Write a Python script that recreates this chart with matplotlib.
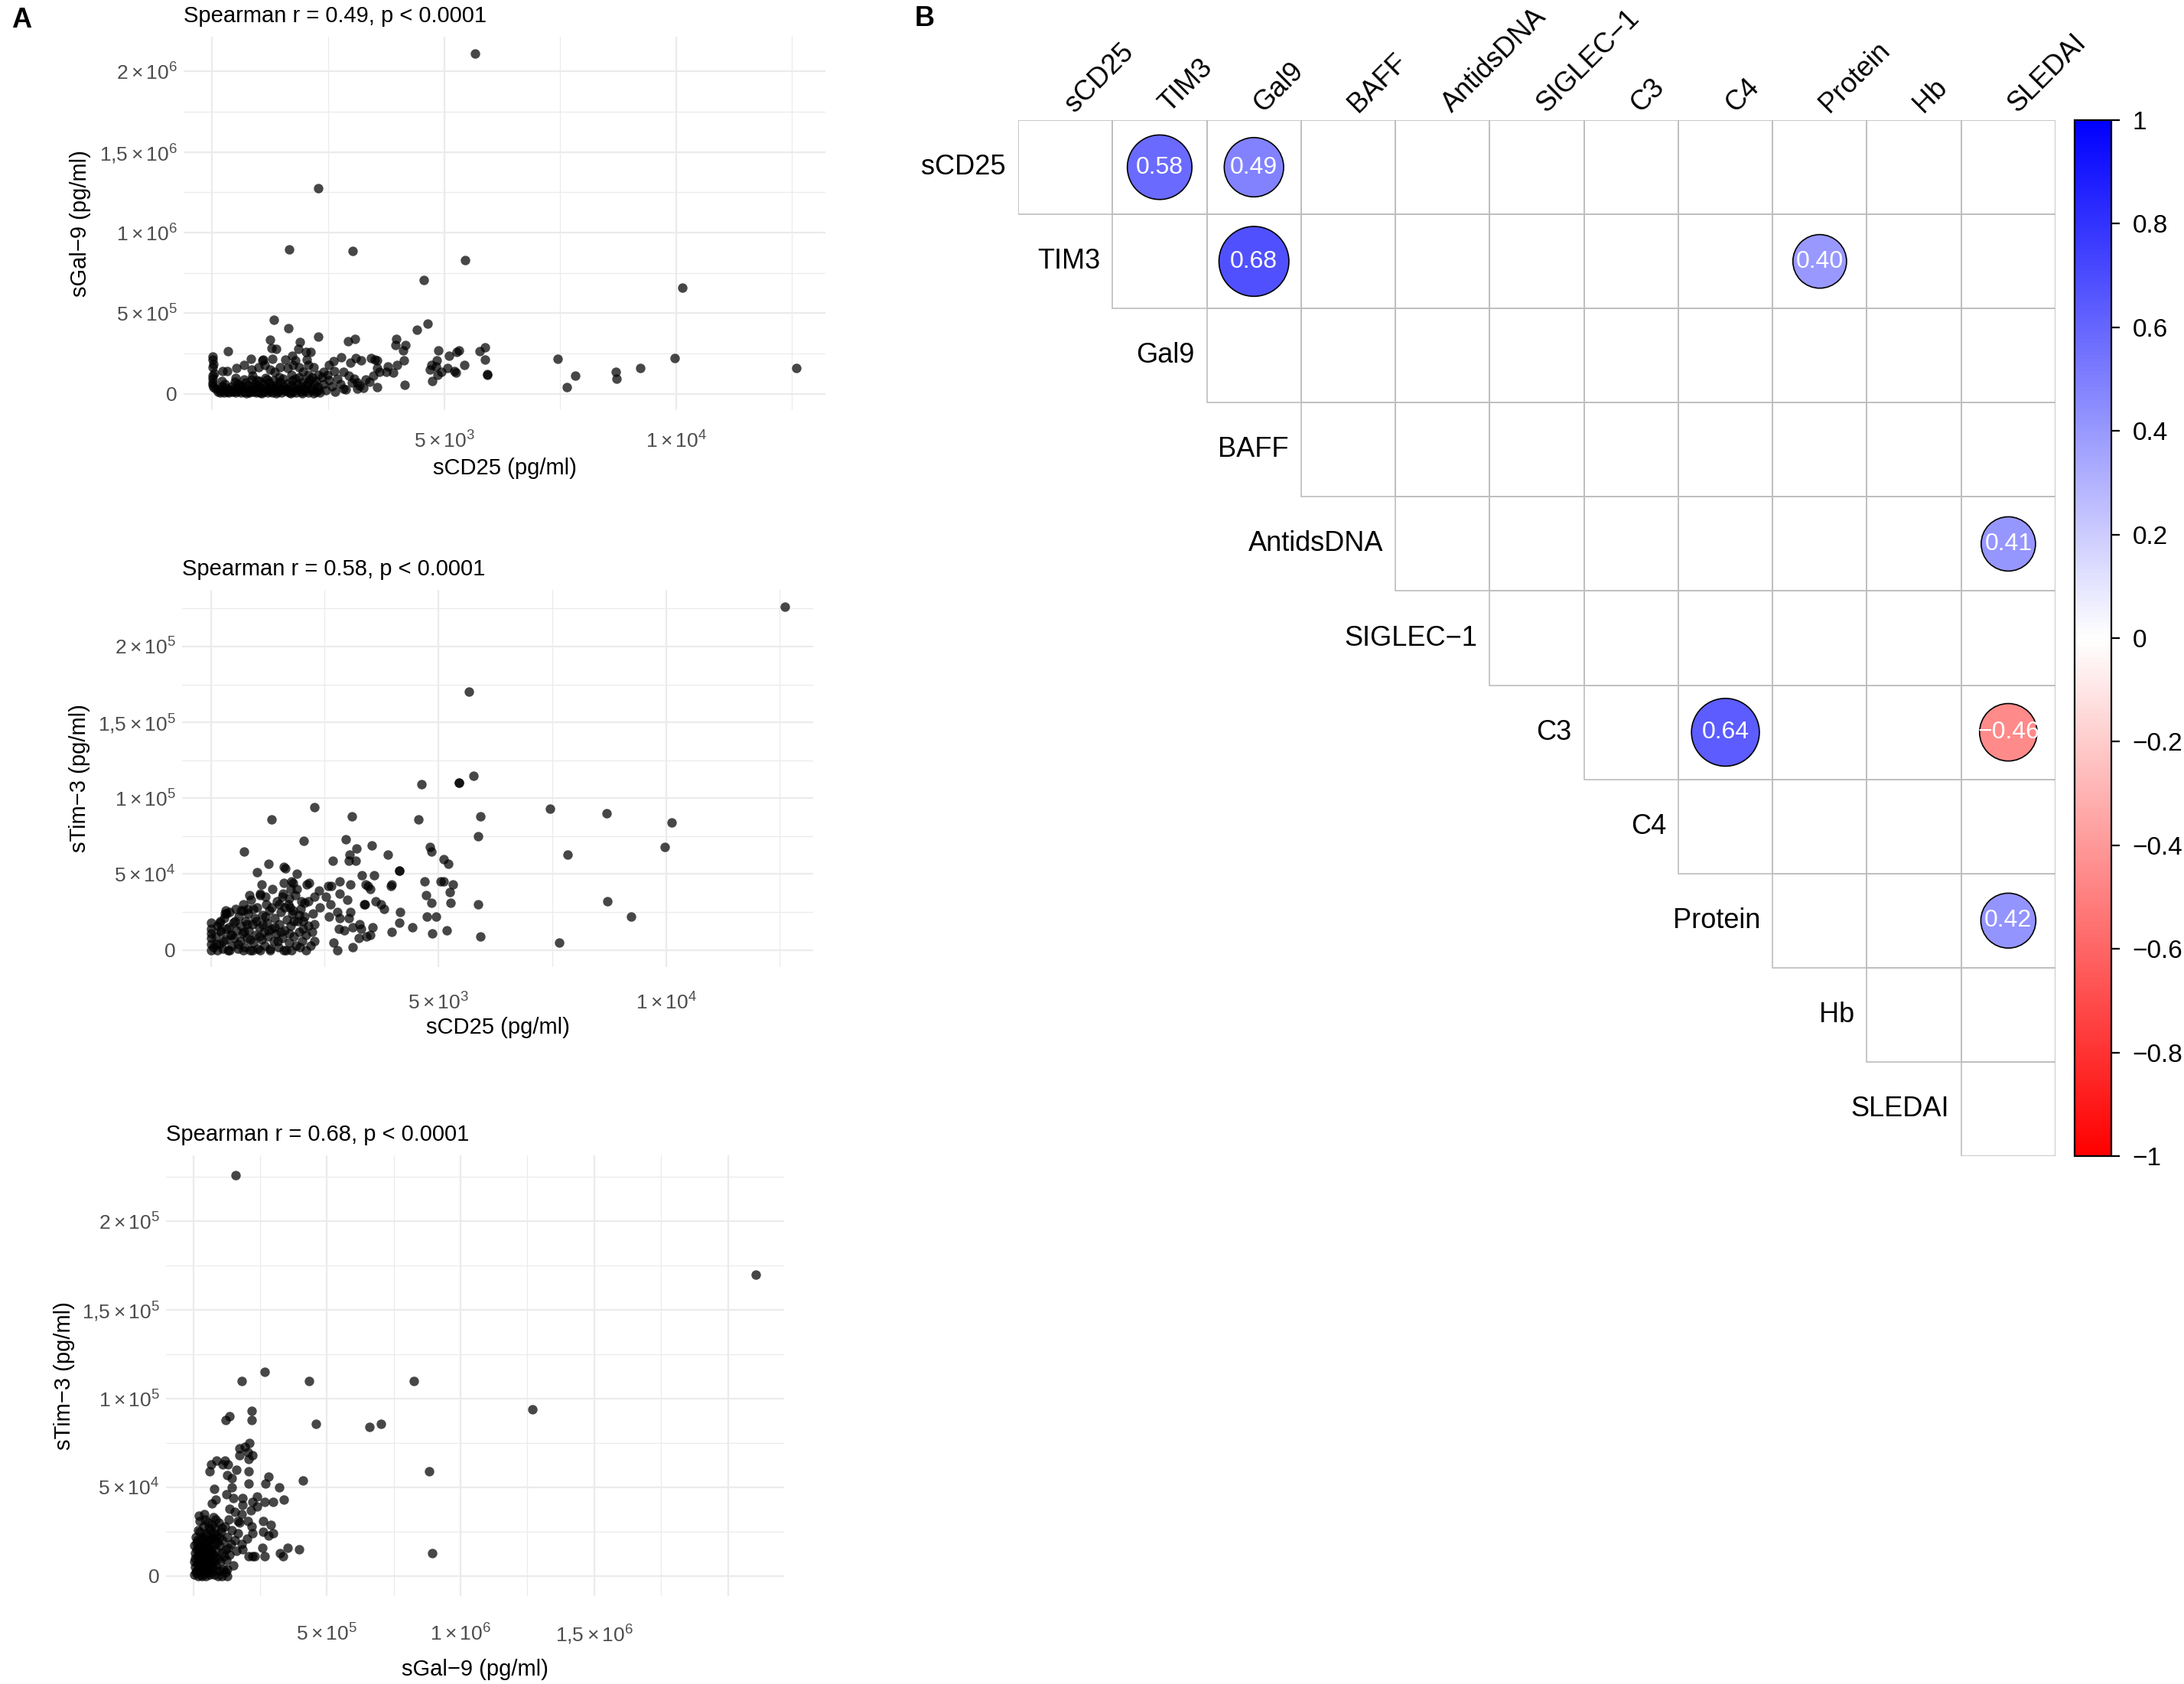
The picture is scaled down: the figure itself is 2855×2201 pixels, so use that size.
import numpy as np
import matplotlib
matplotlib.use('Agg')
import matplotlib.pyplot as plt
from matplotlib.patches import Circle, Rectangle
from matplotlib.colors import LinearSegmentedColormap, Normalize
from matplotlib.cm import ScalarMappable

plt.rcParams['font.family'] = ['Liberation Sans', 'DejaVu Sans']
plt.rcParams['mathtext.fontset'] = 'custom'
plt.rcParams['mathtext.rm'] = 'Liberation Sans'
plt.rcParams['mathtext.it'] = 'Liberation Sans:italic'
plt.rcParams['mathtext.bf'] = 'Liberation Sans:bold'

# ---------------- panel A data ----------------
# sCD25 (x) vs sGal-9 (y)
cd25_gal9_sparse = [
    (5668, 2110e3), (2288, 1276e3), (1661, 896e3), (3031, 886e3), (5459, 827e3),
    (4564, 707e3), (10128, 659e3), (7445, 218e3), (7642, 39e3), (7828, 110e3),
    (8699, 134e3), (8711, 93e3), (9233, 161e3), (9977, 220e3), (12590, 161e3),
    (1325, 457e3), (1639, 408e3), (1242, 334e3), (1893, 323e3), (2285, 353e3),
    (331, 263e3), (1281, 281e3), (1380, 279e3), (1849, 279e3), (2015, 260e3),
    (2125, 259e3), (2931, 325e3), (3080, 341e3), (3969, 339e3), (3947, 301e3),
    (4168, 300e3), (4123, 268e3), (4416, 396e3), (4637, 435e3), (4869, 267e3),
    (5272, 260e3), (5327, 270e3), (5768, 265e3), (5879, 289e3), (5879, 210e3),
    (5923, 121e3), (5923, 118e3), (5437, 180e3), (5106, 237e3), (4847, 208e3),
    (4720, 181e3), (4692, 148e3), (4830, 170e3), (4858, 118e3), (4940, 137e3),
    (5078, 158e3), (5216, 142e3), (5261, 129e3), (4747, 79e3), (4140, 205e3),
    (4146, 55e3), (3980, 180e3), (3792, 170e3), (3754, 134e3), (3903, 129e3),
    (3605, 134e3), (3560, 161e3), (3505, 210e3), (3422, 221e3), (3560, 205e3),
    (3207, 208e3), (3086, 222e3), (2981, 192e3), (2777, 226e3), (2611, 202e3),
    (2523, 178e3), (2633, 140e3), (2826, 137e3), (2826, 33e3), (3124, 32e3),
    (3257, 36e3), (3560, 39e3), (3312, 87e3), (3064, 95e3), (3008, 71e3),
    (3119, 68e3), (3395, 74e3), (3478, 110e3), (2484, 118e3), (2401, 137e3),
    (2374, 103e3), (2291, 118e3), (2291, 24e3), (2180, 166e3), (2070, 181e3),
    (2042, 213e3), (1794, 205e3), (1739, 181e3), (1728, 237e3), (1573, 213e3),
    (1297, 219e3), (1104, 213e3), (1076, 205e3), (828, 219e3), (690, 177e3),
    (513, 162e3), (320, 142e3), (221, 140e3), (210, 80e3), (11, 232e3),
    (11, 213e3), (11, 166e3), (11, 110e3), (11, 95e3), (11, 71e3), (11, 55e3),
    (497, 98e3), (845, 150e3), (999, 166e3), (1132, 181e3), (1242, 150e3),
    (1352, 134e3), (1463, 166e3), (1628, 158e3), (1711, 118e3), (1877, 166e3),
    (1960, 134e3), (2070, 118e3), (2153, 103e3), (2236, 79e3),
]
cd25_gal9_dense = [
    (120, 15e3), (180, 8e3), (230, 22e3), (260, 10e3), (300, 35e3), (330, 14e3),
    (360, 6e3), (390, 28e3), (420, 48e3), (440, 12e3), (470, 19e3), (500, 9e3),
    (520, 38e3), (550, 60e3), (560, 16e3), (590, 27e3), (620, 7e3), (640, 44e3),
    (660, 20e3), (690, 11e3), (710, 70e3), (730, 33e3), (760, 15e3), (780, 52e3),
    (800, 8e3), (820, 24e3), (850, 90e3), (860, 40e3), (880, 13e3), (910, 62e3),
    (930, 29e3), (950, 6e3), (970, 18e3), (990, 46e3), (1010, 78e3), (1030, 10e3),
    (1050, 35e3), (1080, 22e3), (1100, 58e3), (1120, 14e3), (1140, 100e3),
    (1160, 42e3), (1190, 7e3), (1210, 27e3), (1230, 68e3), (1250, 17e3),
    (1270, 50e3), (1300, 9e3), (1320, 85e3), (1340, 31e3), (1360, 20e3),
    (1390, 56e3), (1410, 12e3), (1430, 40e3), (1460, 74e3), (1480, 25e3),
    (1500, 8e3), (1520, 95e3), (1550, 47e3), (1570, 16e3), (1600, 33e3),
    (1620, 64e3), (1650, 10e3), (1670, 22e3), (1700, 52e3), (1720, 82e3),
    (1740, 14e3), (1770, 37e3), (1800, 6e3), (1820, 60e3), (1850, 26e3),
    (1880, 105e3), (1900, 44e3), (1930, 12e3), (1960, 72e3), (1990, 30e3),
    (2010, 18e3), (2040, 55e3), (2070, 9e3), (2100, 88e3), (2130, 35e3),
    (2160, 20e3), (2200, 60e3), (2240, 14e3), (2280, 42e3), (2310, 8e3),
    (150, 28e3), (210, 45e3), (280, 60e3), (350, 20e3), (480, 75e3), (600, 52e3),
    (680, 90e3), (740, 4e3), (870, 110e3), (960, 84e3), (1060, 5e3), (1180, 88e3),
    (1280, 36e3), (1370, 4e3), (1450, 102e3), (1540, 28e3), (1690, 4e3),
    (1790, 92e3), (1940, 4e3), (2060, 68e3), (2180, 4e3), (30, 40e3),
    (40, 125e3), (25, 185e3), (70, 30e3),
    (2400, 60e3), (2450, 20e3), (2520, 85e3), (2580, 45e3), (2650, 12e3),
    (2700, 95e3), (2760, 60e3), (2880, 25e3), (2950, 110e3), (3180, 50e3),
]

# sCD25 (x) vs sTim-3 (y)
cd25_tim3_sparse = [
    (12602, 226e3), (5664, 170e3), (7446, 93e3), (8697, 90e3), (10124, 84e3),
    (9971, 68e3), (7835, 63e3), (8708, 32e3), (9239, 22e3), (7646, 5e3),
    (5773, 115e3), (4630, 109e3), (5448, 110e3), (5455, 110e3), (2281, 94e3),
    (1328, 86e3), (3094, 88e3), (4562, 86e3), (5919, 88e3), (5880, 75e3),
    (2046, 72e3), (2971, 73e3), (729, 65e3), (3542, 69e3), (3206, 67e3),
    (3896, 63e3), (3049, 63e3), (3038, 59e3), (3189, 59e3), (2685, 59e3),
    (4820, 68e3), (4848, 65e3), (5123, 60e3), (5213, 57e3), (4137, 52e3),
    (4140, 52e3), (1272, 57e3), (1609, 55e3), (1637, 54e3), (1009, 51e3),
    (1889, 50e3), (3324, 49e3), (3582, 49e3), (2830, 45e3), (3071, 43e3),
    (3402, 43e3), (3447, 42e3), (3503, 40e3), (3974, 43e3), (3963, 42e3),
    (4691, 45e3), (5056, 45e3), (5112, 45e3), (5319, 43e3), (5246, 38e3),
    (5269, 31e3), (4725, 36e3), (4843, 31e3), (4747, 22e3), (4944, 22e3),
    (4871, 11e3), (5185, 13e3), (5874, 30e3), (5919, 9e3), (4159, 25e3),
    (4137, 18e3), (4422, 15e3), (3974, 12e3), (3548, 15e3), (3503, 10e3),
    (3419, 9e3), (3251, 8e3), (3302, 14e3), (3262, 17e3), (3111, 15e3),
    (3038, 21e3), (3071, 25e3), (3004, 33e3), (2830, 37e3), (2774, 25e3),
    (2830, 21e3), (2819, 14e3), (2926, 13e3), (3111, 2e3), (2786, 0),
    (2690, 5e3), (2595, 22e3), (3374, 30e3), (3378, 30e3), (3621, 32e3),
    (3745, 30e3), (3800, 27e3), (2646, 42e3), (2573, 42e3), (2533, 35e3),
    (2634, 30e3), (2388, 28e3), (2371, 39e3), (2281, 35e3), (2276, 6e3),
    (2231, 12e3), (2281, 17e3), (2141, 32e3), (2057, 31e3), (1995, 32e3),
    (2158, 44e3), (2113, 43e3), (1883, 40e3), (1805, 44e3), (1777, 45e3),
    (1749, 40e3), (1580, 37e3), (1564, 35e3), (1496, 30e3), (1199, 35e3),
    (1076, 37e3), (1115, 43e3), (852, 36e3), (813, 27e3), (712, 26e3),
    (320, 26e3), (303, 24e3), (213, 19e3), (213, 13e3), (0, 18e3), (0, 14e3),
    (0, 11e3), (0, 8e3), (0, 4e3), (0, 0), (151, 0), (2029, 19e3), (2029, 14e3),
    (1945, 23e3), (1805, 26e3), (1721, 34e3), (1743, 28e3), (2085, 0),
    (1777, 0), (1609, 0), (1300, 0), (1076, 0), (908, 0), (712, 0), (404, 0),
]
cd25_tim3_dense = [
    (60, 2e3), (110, 9e3), (150, 16e3), (190, 4e3), (230, 12e3), (260, 1e3),
    (290, 21e3), (320, 7e3), (350, 14e3), (380, 0), (410, 25e3), (430, 10e3),
    (460, 3e3), (490, 18e3), (510, 8e3), (540, 27e3), (560, 13e3), (590, 1e3),
    (610, 22e3), (640, 6e3), (660, 16e3), (690, 11e3), (710, 30e3), (740, 2e3),
    (760, 19e3), (790, 8e3), (810, 24e3), (840, 13e3), (860, 0), (890, 33e3),
    (910, 17e3), (940, 5e3), (960, 21e3), (990, 10e3), (1010, 28e3), (1040, 1e3),
    (1060, 15e3), (1090, 36e3), (1110, 7e3), (1140, 23e3), (1160, 12e3),
    (1190, 3e3), (1210, 30e3), (1240, 18e3), (1260, 9e3), (1290, 26e3),
    (1310, 1e3), (1340, 14e3), (1360, 40e3), (1390, 6e3), (1410, 21e3),
    (1440, 11e3), (1460, 32e3), (1490, 2e3), (1510, 17e3), (1540, 25e3),
    (1570, 8e3), (1600, 44e3), (1620, 13e3), (1650, 0), (1680, 20e3),
    (1700, 30e3), (1730, 5e3), (1760, 16e3), (1790, 24e3), (1820, 9e3),
    (1850, 36e3), (1880, 3e3), (1910, 19e3), (1940, 12e3), (1980, 27e3),
    (2010, 6e3), (2060, 22e3), (2100, 10e3), (2150, 16e3), (2200, 3e3),
    (2240, 24e3), (130, 4e3), (200, 18e3), (270, 6e3), (340, 24e3), (400, 15e3),
    (470, 10e3), (530, 19e3), (600, 4e3), (670, 26e3), (730, 12e3), (800, 17e3),
    (870, 7e3), (930, 27e3), (1000, 19e3), (1070, 9e3), (1130, 17e3),
    (1200, 22e3), (1270, 13e3), (1330, 28e3), (1400, 15e3), (1470, 6e3),
    (1530, 12e3), (1620, 28e3), (1720, 11e3), (1830, 19e3), (1960, 2e3),
]

# sGal-9 (x) vs sTim-3 (y)
gal9_tim3_sparse = [
    (159e3, 226e3), (2105e3, 170e3), (825e3, 110e3), (1270e3, 94e3),
    (881e3, 59e3), (893e3, 13e3),
    (266e3, 115e3), (180e3, 110e3), (434e3, 110e3), (219e3, 93e3), (219e3, 88e3),
    (134e3, 90e3), (122e3, 88e3), (458e3, 86e3), (660e3, 84e3), (701e3, 86e3),
    (210e3, 75e3), (193e3, 73e3), (172e3, 72e3), (172e3, 68e3), (203e3, 70e3),
    (222e3, 68e3), (208e3, 66e3), (86e3, 65e3), (66e3, 63e3), (62e3, 59e3),
    (117e3, 65e3), (110e3, 63e3), (131e3, 63e3), (161e3, 60e3), (206e3, 59e3),
    (126e3, 57e3), (143e3, 55e3), (282e3, 56e3), (270e3, 52e3), (207e3, 52e3),
    (409e3, 54e3), (322e3, 50e3), (144e3, 50e3), (77e3, 49e3), (339e3, 43e3),
    (299e3, 42e3), (268e3, 42e3), (238e3, 45e3), (220e3, 42e3), (239e3, 39e3),
    (215e3, 37e3), (184e3, 44e3), (184e3, 40e3), (151e3, 44e3), (125e3, 46e3),
    (83e3, 43e3), (69e3, 41e3), (136e3, 38e3), (155e3, 36e3), (182e3, 35e3),
    (21e3, 34e3), (45e3, 32e3), (167e3, 31e3), (203e3, 31e3), (261e3, 31e3),
    (289e3, 29e3), (217e3, 28e3), (222e3, 24e3), (261e3, 25e3), (280e3, 23e3),
    (299e3, 24e3), (200e3, 21e3), (182e3, 18e3), (184e3, 15e3), (258e3, 16e3),
    (353e3, 16e3), (397e3, 15e3), (325e3, 13e3), (337e3, 11e3), (268e3, 11e3),
    (229e3, 11e3), (208e3, 11e3), (220e3, 11e3), (128e3, 4e3), (128e3, 0),
    (107e3, 0),
]
gal9_tim3_dense = [
    (3e3, 1e3), (6e3, 5e3), (8e3, 10e3), (10e3, 2e3), (12e3, 15e3), (14e3, 7e3),
    (16e3, 20e3), (18e3, 0), (20e3, 12e3), (22e3, 4e3), (24e3, 25e3), (26e3, 9e3),
    (28e3, 17e3), (30e3, 1e3), (32e3, 13e3), (34e3, 6e3), (36e3, 22e3),
    (38e3, 28e3), (40e3, 10e3), (42e3, 3e3), (44e3, 18e3), (46e3, 14e3),
    (48e3, 0), (50e3, 24e3), (52e3, 8e3), (54e3, 30e3), (56e3, 16e3), (58e3, 4e3),
    (60e3, 20e3), (62e3, 11e3), (64e3, 26e3), (66e3, 2e3), (68e3, 15e3),
    (70e3, 7e3), (72e3, 22e3), (74e3, 33e3), (76e3, 12e3), (78e3, 1e3),
    (80e3, 18e3), (82e3, 27e3), (84e3, 6e3), (86e3, 14e3), (88e3, 23e3),
    (90e3, 3e3), (92e3, 10e3), (95e3, 30e3), (98e3, 17e3), (100e3, 8e3),
    (103e3, 25e3), (106e3, 13e3), (110e3, 20e3), (113e3, 4e3), (117e3, 28e3),
    (120e3, 15e3), (124e3, 9e3), (128e3, 22e3), (132e3, 32e3), (136e3, 12e3),
    (140e3, 18e3), (145e3, 26e3), (150e3, 6e3), (155e3, 20e3), (160e3, 14e3),
    (166e3, 24e3), (172e3, 30e3),
    (5e3, 17e3), (9e3, 22e3), (13e3, 3e3), (17e3, 26e3), (21e3, 8e3),
    (25e3, 31e3), (29e3, 21e3), (33e3, 0), (37e3, 11e3), (41e3, 35e3), (45e3, 5e3),
    (49e3, 19e3), (53e3, 12e3), (57e3, 27e3), (61e3, 1e3), (65e3, 17e3),
    (69e3, 29e3), (73e3, 5e3), (77e3, 24e3), (81e3, 10e3), (85e3, 32e3),
    (89e3, 19e3), (93e3, 0), (97e3, 22e3), (102e3, 3e3), (108e3, 27e3),
    (115e3, 11e3), (122e3, 2e3), (130e3, 16e3),
    (4e3, 8e3), (7e3, 13e3), (11e3, 19e3), (15e3, 11e3), (19e3, 16e3),
    (23e3, 14e3), (27e3, 5e3), (31e3, 9e3), (35e3, 16e3), (39e3, 20e3),
    (43e3, 8e3), (47e3, 23e3), (51e3, 2e3), (55e3, 10e3), (59e3, 14e3),
    (63e3, 6e3), (67e3, 21e3), (71e3, 13e3), (75e3, 9e3), (79e3, 21e3),
]

titles_a = ['Spearman r = 0.49, p < 0.0001',
            'Spearman r = 0.58, p < 0.0001',
            'Spearman r = 0.68, p < 0.0001']

# ---------------- panel B data ----------------
vars_b = ['sCD25', 'TIM3', 'Gal9', 'BAFF', 'AntidsDNA', 'SIGLEC\u22121',
          'C3', 'C4', 'Protein', 'Hb', 'SLEDAI']
sig_row = ['sCD25', 'sCD25', 'TIM3', 'TIM3', 'AntidsDNA', 'C3', 'C3', 'Protein']
sig_col = ['TIM3', 'Gal9', 'Gal9', 'Protein', 'SLEDAI', 'C4', 'SLEDAI', 'SLEDAI']
sig_r = [0.58, 0.49, 0.68, 0.40, 0.41, 0.64, -0.46, 0.42]

# ---------------- figure ----------------
W, H = 2855, 2201
DPI = 200
fig = plt.figure(figsize=(W / DPI, H / DPI), dpi=DPI)


def box(l, t, r, b):
    return [l / W, 1 - b / H, (r - l) / W, (b - t) / H]


def sci(m, e):
    return r'$%s\times10^{%d}$' % (m, e)


def scatter_panel(px, pts, title, xlab, ylab, xmaj, xlabs, xminr,
                  ymaj, ylabs, yminr, ylab_x, xlab_y, xpad=10):
    l, t, r, b = px
    ax = fig.add_axes(box(l, t, r, b))
    xs = [p[0] for p in pts]
    ys = [p[1] for p in pts]
    ax.scatter(xs, ys, s=20, c='black', alpha=0.72, linewidths=0, zorder=3)
    ax.margins(0.05)
    xl, yl = ax.get_xlim(), ax.get_ylim()
    ax.set_xticks(xmaj)
    ax.set_xticklabels(xlabs)
    ax.set_xticks(xminr, minor=True)
    ax.set_yticks(ymaj)
    ax.set_yticklabels(ylabs)
    ax.set_yticks(yminr, minor=True)
    ax.set_xlim(xl)
    ax.set_ylim(yl)
    for s in ax.spines.values():
        s.set_visible(False)
    ax.grid(which='major', color='#EBEBEB', lw=0.8, zorder=0)
    ax.grid(which='minor', color='#EBEBEB', lw=0.45, zorder=0)
    ax.set_axisbelow(True)
    ax.tick_params(which='both', length=0, labelsize=9.5, labelcolor='#4D4D4D')
    ax.tick_params(axis='x', pad=xpad)
    ax.tick_params(axis='y', pad=3)
    ax.set_title(title, loc='left', fontsize=10.5, pad=7)
    ax.set_xlabel(xlab, fontsize=10.5)
    ax.set_ylabel(ylab, fontsize=10.5)
    ax.xaxis.label.set_va('center')
    ax.yaxis.label.set_va('center')
    ax.xaxis.set_label_coords(0.5, -(xlab_y - b) / (b - t))
    ax.yaxis.set_label_coords((ylab_x - l) / (r - l), 0.5)
    return ax


xmaj_cd25 = [0, 5000, 10000]
xlab_cd25 = ['', sci(5, 3), sci(1, 4)]
xmin_cd25 = [2500, 7500, 12500]

scatter_panel((240, 48, 1079, 536), cd25_gal9_sparse + cd25_gal9_dense,
              titles_a[0], 'sCD25 (pg/ml)', 'sGal\u22129 (pg/ml)',
              xmaj_cd25, xlab_cd25, xmin_cd25,
              [0, 5e5, 1e6, 1.5e6, 2e6],
              ['0', sci(5, 5), sci(1, 6), sci('1{,}5', 6), sci(2, 6)],
              [2.5e5, 7.5e5, 1.25e6, 1.75e6], 105, 612)

scatter_panel((238, 771, 1063, 1264), cd25_tim3_sparse + cd25_tim3_dense,
              titles_a[1], 'sCD25 (pg/ml)', 'sTim\u22123 (pg/ml)',
              xmaj_cd25, xlab_cd25, xmin_cd25,
              [0, 5e4, 1e5, 1.5e5, 2e5],
              ['0', sci(5, 4), sci(1, 5), sci('1{,}5', 5), sci(2, 5)],
              [2.5e4, 7.5e4, 1.25e5, 1.75e5, 2.25e5], 104, 1343, xpad=12)

scatter_panel((217, 1510, 1025, 2086), gal9_tim3_sparse + gal9_tim3_dense,
              titles_a[2], 'sGal\u22129 (pg/ml)', 'sTim\u22123 (pg/ml)',
              [0, 5e5, 1e6, 1.5e6, 2e6],
              ['', sci(5, 5), sci(1, 6), sci('1{,}5', 6), ''],
              [2.5e5, 7.5e5, 1.25e6, 1.75e6],
              [0, 5e4, 1e5, 1.5e5, 2e5],
              ['0', sci(5, 4), sci(1, 5), sci('1{,}5', 5), sci(2, 5)],
              [2.5e4, 7.5e4, 1.25e5, 1.75e5, 2.25e5], 84, 2182, xpad=13)

# ---------------- panel B: correlation matrix ----------------
n = len(vars_b)
cmap = LinearSegmentedColormap.from_list('rwb', ['#FF0000', '#FFFFFF', '#0000FF'])
norm = Normalize(-1, 1)

axm = fig.add_axes(box(1331, 157, 2687, 1511))
axm.set_xlim(0, n)
axm.set_ylim(n, 0)
axm.axis('off')

for i in range(n):
    for j in range(i, n):
        axm.add_patch(Rectangle((j, i), 1, 1, fill=False, ec='#BEBEBE', lw=0.6))

for rn, cn, r in zip(sig_row, sig_col, sig_r):
    i, j = vars_b.index(rn), vars_b.index(cn)
    axm.add_patch(Circle((j + 0.5, i + 0.5), 0.45 * np.sqrt(abs(r)),
                         fc=cmap(norm(r)), ec='black', lw=0.6, zorder=3))
    axm.text(j + 0.5, i + 0.5, ('%.2f' % r).replace('-', '\u2212'),
             ha='center', va='center', color='white', fontsize=11.5, zorder=4)

for k, name in enumerate(vars_b):
    axm.text(k - 0.13, k + 0.5, name, ha='right', va='center', fontsize=13)
    axm.text(k + 0.6, -0.07, name, ha='left', va='baseline', fontsize=13,
             rotation=45, rotation_mode='anchor')

cax = fig.add_axes(box(2712, 157, 2760, 1511))
cb = fig.colorbar(ScalarMappable(norm=norm, cmap=cmap), cax=cax)
cb_ticks = [1, 0.8, 0.6, 0.4, 0.2, 0, -0.2, -0.4, -0.6, -0.8, -1]
cb.set_ticks(cb_ticks)
cb.set_ticklabels([('%g' % v).replace('-', '\u2212') for v in cb_ticks])
cb.outline.set_edgecolor('black')
cb.outline.set_linewidth(0.8)
cax.tick_params(length=4, width=0.8, labelsize=12, pad=6)

fig.text(15 / W, 1 - 27 / H, 'A', fontsize=13, fontweight='bold', va='center')
fig.text(1196 / W, 1 - 25 / H, 'B', fontsize=13, fontweight='bold', va='center')

fig.savefig('out.png', dpi=DPI)
